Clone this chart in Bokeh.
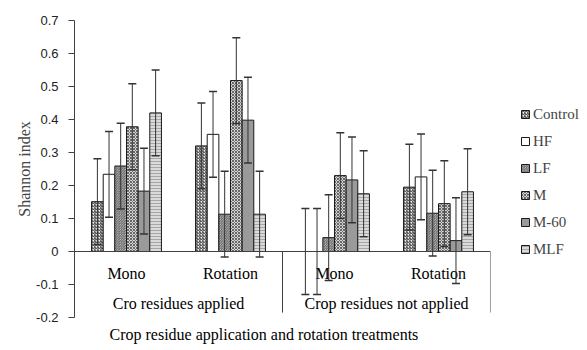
from bokeh.plotting import figure
from bokeh.models import (FactorRange, Whisker, ColumnDataSource, Legend, LegendItem,
                          Span, Title, CustomJSTickFormatter, FixedTicker, TeeHead)
from bokeh.transform import dodge
from bokeh.core.properties import value
from bokeh.embed import file_html
from bokeh.resources import INLINE

# ---- data ----
groups = ["Cro residues applied", "Cro residues applied",
          "Crop residues not applied", "Crop residues not applied"]
systems = ["Mono", "Rotation", "Mono", "Rotation"]
series = ["Control", "HF", "LF", "M", "M-60", "MLF"]

control = [0.151, 0.320, 0.000, 0.195]
hf = [0.234, 0.355, 0.000, 0.226]
lf = [0.259, 0.113, 0.042, 0.116]
m = [0.378, 0.518, 0.230, 0.145]
m60 = [0.183, 0.398, 0.217, 0.033]
mlf = [0.420, 0.113, 0.175, 0.181]

err_control = [0.13, 0.13, 0.13, 0.13]
err_hf = [0.13, 0.13, 0.13, 0.13]
err_lf = [0.13, 0.13, 0.13, 0.13]
err_m = [0.13, 0.13, 0.13, 0.13]
err_m60 = [0.13, 0.13, 0.13, 0.13]
err_mlf = [0.13, 0.13, 0.13, 0.13]

yticks = [-0.2, -0.1, 0.0, 0.1, 0.2, 0.3, 0.4, 0.5, 0.6, 0.7]

values = [control, hf, lf, m, m60, mlf]
errors = [err_control, err_hf, err_lf, err_m, err_m60, err_mlf]

# ---- styles ----
styles = [
    dict(fill_color="#f0f0f0", hatch_pattern="right_diagonal_line", hatch_color="#333333", hatch_scale=3, hatch_weight=1),
    dict(fill_color="white"),
    dict(fill_color="#e4e4e4", hatch_pattern="left_diagonal_line", hatch_color="#404040", hatch_scale=2.5, hatch_weight=0.8),
    dict(fill_color="#d4d4d4", hatch_pattern="diagonal_cross", hatch_color="#383838", hatch_scale=3, hatch_weight=0.7),
    dict(fill_color="#9a9a9a"),
    dict(fill_color="#dadada", hatch_pattern="horizontal_line", hatch_color="#9a9a9a", hatch_scale=3, hatch_weight=0.8),
]

SERIF = value("Liberation Serif")
factors = list(zip(groups, systems))

p = figure(x_range=FactorRange(factors=factors, factor_padding=0, group_padding=0,
                               subgroup_padding=0, range_padding=0),
           y_range=(-0.2, 0.7),
           frame_width=416, frame_height=297,
           min_border_left=74, min_border_top=20, min_border_right=81, min_border_bottom=25,
           x_axis_location=None,
           output_backend="svg", toolbar_location=None)

p.outline_line_color = None
p.xgrid.grid_line_color = None
p.ygrid.grid_line_color = None
p.background_fill_color = "white"

# y axis
p.yaxis.ticker = FixedTicker(ticks=yticks)
p.yaxis.formatter = CustomJSTickFormatter(code="return Math.abs(tick) < 1e-9 ? '0' : tick.toFixed(1);")
p.yaxis.minor_tick_line_color = None
p.yaxis.major_tick_in = 0
p.yaxis.major_tick_out = 6
p.yaxis.axis_line_color = "#404040"
p.yaxis.major_tick_line_color = "#404040"
p.yaxis.major_label_text_font = "Liberation Sans"
p.yaxis.major_label_text_font_size = "13px"
p.yaxis.major_label_text_color = "#222222"
p.yaxis.major_label_standoff = 10
p.yaxis.axis_label = "Shannon index"
p.yaxis.axis_label_text_font = "Liberation Serif"
p.yaxis.axis_label_text_font_style = "normal"
p.yaxis.axis_label_text_font_size = "16px"
p.yaxis.axis_label_standoff = 0

# zero line (category axis)
p.add_layout(Span(location=0, dimension="width", line_color="#404040", line_width=1))

n = len(series)
width = 0.112
items = []
bar_renderers = []
for i, (name, vals, errs, st) in enumerate(zip(series, values, errors, styles)):
    off = (i - (n - 1) / 2) * width
    src = ColumnDataSource(dict(
        x=factors, top=vals,
        upper=[v + e for v, e in zip(vals, errs)],
        lower=[v - e for v, e in zip(vals, errs)],
    ))
    r = p.vbar(x=dodge("x", off, range=p.x_range), top="top", bottom=0, width=width,
               source=src, line_color="#1a1a1a", line_width=1, **st)
    items.append(LegendItem(label=name, renderers=[r]))
    bar_renderers.append((src, off))

for src, off in bar_renderers:
    w = Whisker(source=src, base=dodge("x", off, range=p.x_range), upper="upper", lower="lower",
                line_color="#333333", line_width=1,
                upper_head=TeeHead(size=8, line_color="#333333", line_width=1.5),
                lower_head=TeeHead(size=8, line_color="#333333", line_width=1.5),
                level="annotation")
    p.add_layout(w)

# category labels
p.text(x=factors, y=[0] * len(factors), text=systems, y_offset=22,
       text_align="center", text_baseline="middle",
       text_font=SERIF, text_font_size="16px", text_color="black")
group_names = list(dict.fromkeys(groups))
p.text(x=group_names, y=[0] * len(group_names), text=group_names, y_offset=52,
       text_align="center", text_baseline="middle",
       text_font=SERIF, text_font_size="16px", text_color="black")

# separator tick lines
sep_src = ColumnDataSource(dict(x=[factors[1], factors[3]], y0=[0, 0], y1=[-0.185, -0.185]))
p.segment(x0=dodge("x", 0.5, range=p.x_range), y0="y0",
          x1=dodge("x", 0.5, range=p.x_range), y1="y1",
          source=sep_src, line_color="#404040", line_width=1)

# x title
p.add_layout(Title(text="Crop residue application and rotation treatments", align="left",
                   offset=35, standoff=12,
                   text_font="Liberation Serif", text_font_size="16px",
                   text_font_style="normal", text_color="black"), "below")

legend = Legend(items=items, location=(30, 58), glyph_width=10, glyph_height=10,
                label_height=20, spacing=7, label_standoff=3, padding=0, margin=0,
                border_line_color=None, background_fill_alpha=0,
                label_text_font="Liberation Serif", label_text_font_size="15px")
p.add_layout(legend, "right")

open("out.html", "w").write(file_html(p, INLINE))
